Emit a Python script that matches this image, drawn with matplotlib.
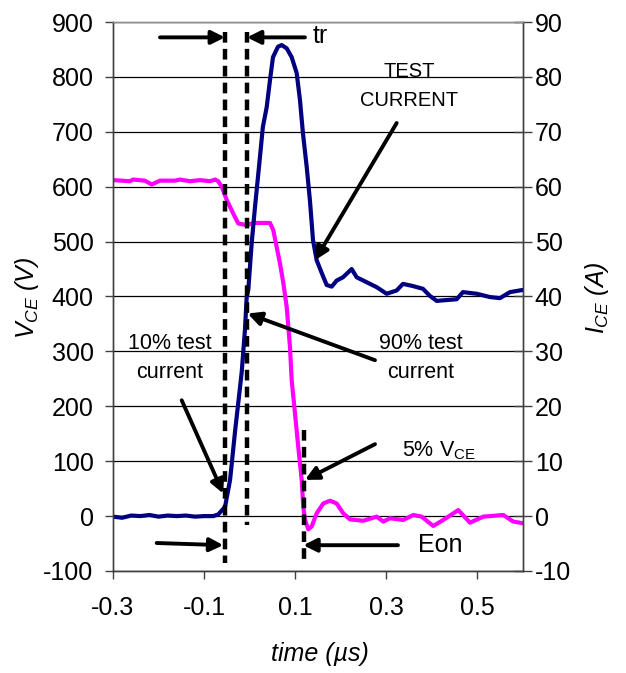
import matplotlib
matplotlib.use("Agg")
import matplotlib.pyplot as plt

plt.rcParams['font.family'] = ['Liberation Sans', 'DejaVu Sans']
plt.rcParams['mathtext.fontset'] = 'custom'
plt.rcParams['mathtext.rm'] = 'Liberation Sans'
plt.rcParams['mathtext.it'] = 'Liberation Sans:italic'
plt.rcParams['axes.unicode_minus'] = False

# collector-emitter voltage (V), left axis
time_v = [-0.3, -0.263, -0.256, -0.230, -0.215, -0.197, -0.164, -0.153, -0.131, -0.109,
          -0.087, -0.076, -0.069, -0.0614, -0.0504, -0.036, -0.025, -0.0065, 0.008,
          0.0446, 0.0518, 0.0593, 0.0666, 0.0738, 0.0813, 0.0885, 0.0922, 0.0995,
          0.1067, 0.1142, 0.1177, 0.1214, 0.1287, 0.1361, 0.1471, 0.1616, 0.1763,
          0.191, 0.2055, 0.2202, 0.2494, 0.2788, 0.2933, 0.308, 0.3372, 0.3591,
          0.3776, 0.403, 0.425, 0.458, 0.4836, 0.5128, 0.5567, 0.5786, 0.6]
vce = [612, 610, 613, 611, 604, 611, 611, 613, 610, 612,
       610, 613, 610, 600, 576, 551, 533, 530, 534,
       534, 521, 490, 460, 425, 381, 308, 248, 187,
       126, 66, 17, -7, -24, -19, 5, 23, 28,
       23, 5, -6, -8.5, -1, -10, -4, -7, 2,
       -1, -18, -7, 11, -12, -1, 2, -10, -13]

# collector current (A), right axis
time_i = [-0.3, -0.28, -0.26, -0.24, -0.22, -0.2, -0.18, -0.16, -0.14, -0.12, -0.1,
          -0.08, -0.069, -0.054, -0.043, -0.032, -0.026, -0.0175, -0.0103, -0.0065,
          -0.003, 0.0044, 0.0117, 0.0227, 0.029, 0.0374, 0.0446, 0.0512, 0.0622,
          0.0703, 0.0813, 0.0922, 0.1032, 0.1104, 0.117, 0.1252, 0.1324, 0.139,
          0.1471, 0.1581, 0.169, 0.18, 0.191, 0.2048, 0.2239, 0.2349, 0.2568,
          0.2788, 0.3007, 0.3227, 0.3365, 0.3585, 0.3804, 0.3958, 0.4105, 0.4544,
          0.4682, 0.4983, 0.5275, 0.5494, 0.5714, 0.6]
ice = [-0.1, -0.3, 0.1, 0.0, 0.2, -0.1, 0.1, 0.0, 0.1, -0.1, 0.0,
       0.0, 0.3, 1.7, 6.6, 15.5, 19.9, 26.2, 34.0, 40.0,
       41.2, 49.7, 56.3, 65.5, 70.9, 74.5, 79.4, 83.6, 85.5,
       85.8, 85.2, 83.6, 80.7, 75.8, 69.7, 63.6, 57.4, 50.3,
       46.6, 44.3, 42.1, 41.8, 42.9, 43.5, 45.0, 43.5, 42.6,
       41.7, 40.5, 41.1, 42.3, 41.9, 41.4, 40.1, 39.2, 39.5,
       40.8, 40.5, 39.9, 39.7, 40.8, 41.2]

x_ticks = [-0.3, -0.1, 0.1, 0.3, 0.5]
v_ticks = list(range(-100, 901, 100))
i_ticks = list(range(-10, 91, 10))

fig = plt.figure(figsize=(6.26, 6.73), dpi=100)
ax = fig.add_axes([113 / 626, 1 - 571 / 673, 410 / 626, 549 / 673])
ax2 = ax.twinx()

ax.plot(time_v, vce, color='#FF00FF', lw=3.0, solid_joinstyle='round')
ax2.plot(time_i, ice, color='#000080', lw=3.0, solid_joinstyle='round')

ax.set_xlim(-0.3, 0.6)
ax.set_ylim(-100, 900)
ax2.set_ylim(-10, 90)
ax.set_xticks(x_ticks)
ax.set_xticklabels([f"{t:g}" for t in x_ticks])
ax.set_yticks(v_ticks)
ax2.set_yticks(i_ticks)

ax.grid(axis='y', color='black', lw=0.9)
ax.set_axisbelow(True)

for a in (ax, ax2):
    for s in a.spines.values():
        s.set_color('#404040')
        s.set_linewidth(1.0)
    a.spines['top'].set_color('#909090')
ax.tick_params(axis='y', direction='out', length=6, width=1, color='#404040', labelsize=18, pad=8)
ax.tick_params(axis='x', direction='out', length=6, width=1, color='#404040', labelsize=18, pad=12)
ax2.tick_params(axis='y', direction='inout', length=13, width=1, color='#404040', labelsize=18, pad=2)

# dashed marker lines (positions in V coordinates)
dash_style = dict(color='black', lw=3.2, dashes=(2.4, 1.4), transform=ax.transData)
ax2.plot([-0.0542, -0.0542], [882, -86], **dash_style)
ax2.plot([-0.0067, -0.0067], [882, -16], **dash_style)
ax2.plot([0.1192, 0.1192], [157, -82], **dash_style)

arrow = dict(arrowstyle='-|>', color='black', lw=2.8, mutation_scale=20, shrinkA=0, shrinkB=0)
arrows = [
    ((-0.1968, 872), (-0.0542, 872)),
    ((0.1214, 872), (-0.0059, 872)),
    ((0.3227, 716), (0.1434, 466)),
    ((0.2751, 284), (-0.0045, 369)),
    ((-0.1492, 211), (-0.0579, 41)),
    ((0.2751, 131), (0.1214, 66)),
    ((-0.2041, -49), (-0.0579, -53)),
    ((0.3255, -53), (0.1177, -53)),
]
for tail, head in arrows:
    ax2.annotate('', xy=head, xytext=tail, xycoords=ax.transData,
                 textcoords=ax.transData, arrowprops=arrow)

txt = dict(transform=ax.transData, va='baseline')
ax2.text(0.139, 862, 'tr', fontsize=18, ha='left', **txt)
ax2.text(0.3497, 800, 'TEST', fontsize=14.5, ha='center', **txt)
ax2.text(0.3497, 747, 'CURRENT', fontsize=14.5, ha='center', **txt)
ax2.text(-0.1749, 305, '10% test', fontsize=15.5, ha='center', **txt)
ax2.text(-0.1749, 251, 'current', fontsize=15.5, ha='center', **txt)
ax2.text(0.3752, 305, '90% test', fontsize=15.5, ha='center', **txt)
ax2.text(0.3752, 251, 'current', fontsize=15.5, ha='center', **txt)
ax2.text(0.3343, 108, r'5% V$_{\mathrm{CE}}$', fontsize=15.5, ha='left', **txt)
ax2.text(0.3694, -66, 'Eon', fontsize=18, ha='left', **txt)

fig.text(27 / 626, 1 - 298 / 673, r'$V_{CE}$ (V)', rotation=90, fontsize=18,
         style='italic', ha='center', va='center')
fig.text(597 / 626, 1 - 298 / 673, r'$I_{CE}$ (A)', rotation=90, fontsize=18,
         style='italic', ha='center', va='center')
fig.text(320 / 626, 1 - 654 / 673, 'time (µs)', fontsize=18, style='italic',
         ha='center', va='center')

fig.savefig('out.png', dpi=100)
